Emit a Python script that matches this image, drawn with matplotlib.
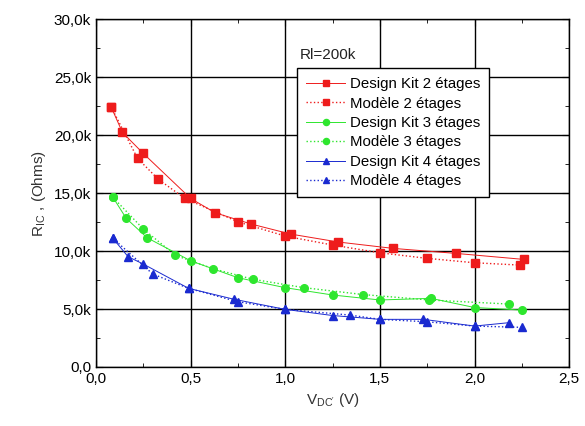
import numpy as np
import matplotlib.pyplot as plt
from matplotlib.ticker import MultipleLocator, FuncFormatter

plt.rcParams['font.family'] = ['Liberation Sans', 'DejaVu Sans']
plt.rcParams['mathtext.fontset'] = 'custom'
plt.rcParams['mathtext.rm'] = 'Liberation Sans'

# red, 2 stages
dk2_x = [0.08, 0.14, 0.25, 0.50, 0.63, 0.82, 1.03, 1.28, 1.57, 1.90, 2.26]
dk2_y = [22440, 20230, 18420, 14540, 13300, 12330, 11460, 10780, 10230, 9800, 9280]
mod2_x = [0.08, 0.22, 0.33, 0.47, 0.75, 1.00, 1.25, 1.50, 1.75, 2.00, 2.24]
mod2_y = [22440, 17990, 16180, 14540, 12520, 11290, 10520, 9850, 9370, 8990, 8790]

# green, 3 stages
dk3_x = [0.09, 0.16, 0.27, 0.50, 0.75, 1.00, 1.25, 1.50, 1.77, 2.00, 2.25]
dk3_y = [14630, 12820, 11150, 9160, 7700, 6840, 6210, 5780, 5920, 5130, 4910]
mod3_x = [0.09, 0.25, 0.42, 0.62, 0.83, 1.10, 1.41, 1.76, 2.18]
mod3_y = [14630, 11900, 9630, 8470, 7560, 6840, 6250, 5780, 5430]

# blue, 4 stages
dk4_x = [0.09, 0.17, 0.25, 0.49, 0.73, 1.00, 1.25, 1.50, 1.73, 2.00, 2.18]
dk4_y = [11090, 9510, 8880, 6780, 5840, 4970, 4440, 4110, 4110, 3530, 3820]
mod4_x = [0.09, 0.30, 0.49, 0.75, 1.00, 1.34, 1.50, 1.75, 2.00, 2.25]
mod4_y = [11090, 8020, 6780, 5630, 4970, 4480, 4110, 3900, 3530, 3420]

red = '#ee1c1c'
green = '#2ee62e'
blue = '#1a2ad0'

fig = plt.figure(figsize=(5.85, 4.26), dpi=100)
ax = fig.add_axes([0.164, 0.1385, 0.809, 0.8165])

ax.plot(dk2_x, dk2_y, '-', color=red, lw=0.7, marker='s', ms=5.5, label='Design Kit 2 étages')
ax.plot(mod2_x, mod2_y, ':', color=red, lw=1.0, marker='s', ms=5.5, label='Modèle 2 étages')
ax.plot(dk3_x, dk3_y, '-', color=green, lw=0.7, marker='o', ms=5.5, label='Design Kit 3 étages')
ax.plot(mod3_x, mod3_y, ':', color=green, lw=1.0, marker='o', ms=5.5, label='Modèle 3 étages')
ax.plot(dk4_x, dk4_y, '-', color=blue, lw=0.7, marker='^', ms=5.5, label='Design Kit 4 étages')
ax.plot(mod4_x, mod4_y, ':', color=blue, lw=1.0, marker='^', ms=5.5, label='Modèle 4 étages')

ax.set_xlim(0, 2.5)
ax.set_ylim(0, 30000)
ax.xaxis.set_major_locator(MultipleLocator(0.5))
ax.xaxis.set_minor_locator(MultipleLocator(0.25))
ax.yaxis.set_major_locator(MultipleLocator(5000))
ax.yaxis.set_minor_locator(MultipleLocator(2500))
ax.xaxis.set_major_formatter(FuncFormatter(lambda v, p: ('%.1f' % v).replace('.', ',')))
ax.yaxis.set_major_formatter(FuncFormatter(
    lambda v, p: '0,0' if v == 0 else ('%.1fk' % (v / 1000)).replace('.', ',')))
ax.tick_params(which='both', direction='in', top=True, right=True, labelsize=11)
ax.tick_params(which='major', length=5)
ax.tick_params(which='minor', length=3)
ax.grid(True, which='major', color='black', lw=1.0)
for s in ax.spines.values():
    s.set_linewidth(1.0)

ax.set_xlabel(r'V$_{\mathrm{DC}^{\prime}}$ (V)', fontsize=11, color='#333333')
ax.set_ylabel(r'R$_{\mathrm{IC}}$ , (Ohms)', fontsize=11, color='#333333')

ax.text(0.431, 0.897, 'Rl=200k', transform=ax.transAxes, fontsize=11,
        va='center', ha='left', color='#222222')

leg = ax.legend(loc='upper left', bbox_to_anchor=(0.425, 0.859), fontsize=10.8,
                frameon=True, fancybox=False, framealpha=1, edgecolor='black',
                handlelength=2.6, handletextpad=0.3, labelspacing=0.36,
                borderpad=0.6, borderaxespad=0, markerscale=0.8)
leg.get_frame().set_linewidth(1.0)
leg.set_zorder(5)

fig.savefig('out.png', dpi=100)
